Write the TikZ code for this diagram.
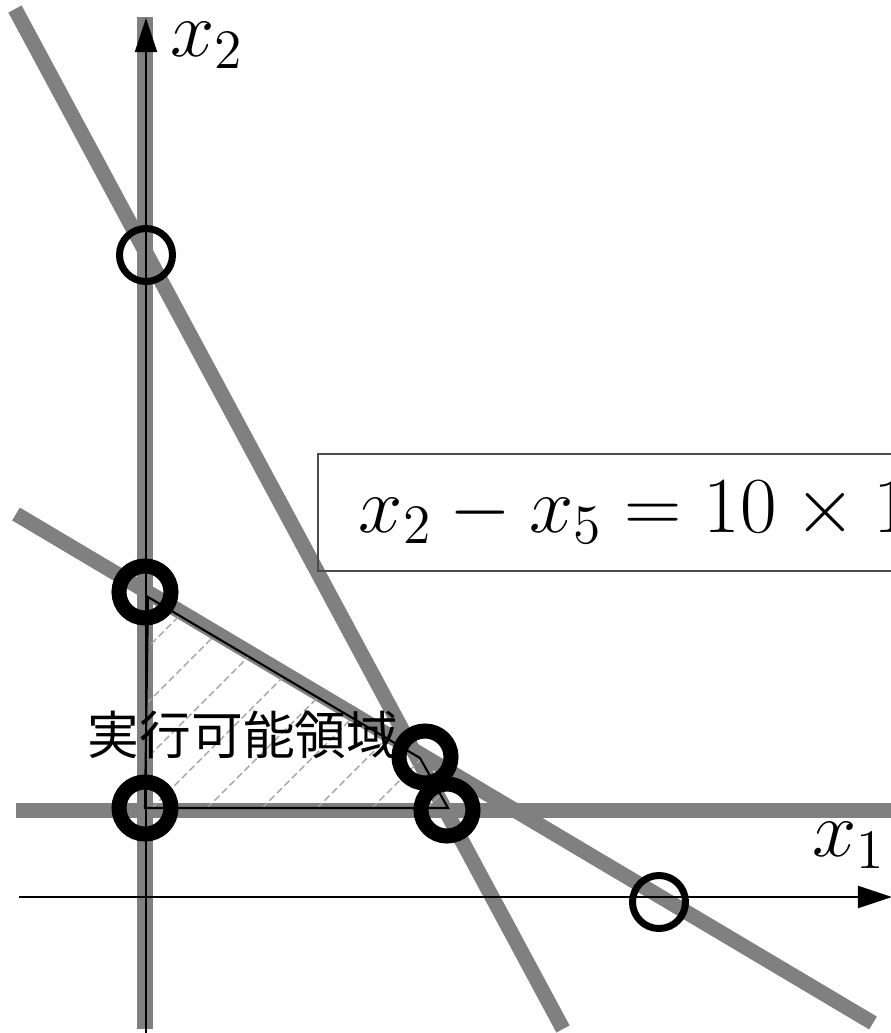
\RequirePackage{fix-cm}
\documentclass[tikz,border=0pt]{standalone}
\usepackage{fontspec}
\usepackage{tikz}
\usepackage{xcolor}
\usetikzlibrary{arrows.meta}
\newfontfamily\jpfont{Noto Sans CJK JP}
\definecolor{linegray}{RGB}{128,128,128}
\definecolor{hatchgray}{RGB}{165,165,165}

\begin{document}
\begin{tikzpicture}[
    x=0.01cm, y=-0.01cm,
    every node/.style={font=\fontsize{22.6}{27}\selectfont},
    constraint/.style={draw=linegray, line width=0.15cm},
    axis/.style={draw=black, line width=0.6pt, -{Triangle[length=0.34cm,width=0.22cm]}},
    vertex/.style={draw, circle, line width=0.15cm, minimum size=0.52cm, inner sep=0pt},
    basis/.style={draw, circle, line width=0.07cm, minimum size=0.53cm, inner sep=0pt},
    hatch/.style={draw=hatchgray, line width=0.4pt, dash pattern=on 2pt off 1pt}
]
\useasboundingbox (0,0) rectangle (891,1033);
\clip (0,0) rectangle (891,1033);

% Constraint lines
\coordinate (s1) at (15,9);
\coordinate (s2) at (563,1029);
\coordinate (f1) at (16,514);
\coordinate (f2) at (873,1023);
\coordinate (h1) at (16,810);
\coordinate (h2) at (905,810);
\coordinate (v1) at (145,17);
\coordinate (v2) at (145,1029);
\draw[constraint] (s1) -- (s2);
\draw[constraint] (f1) -- (f2);
\draw[constraint] (h1) -- (h2);
\draw[constraint] (v1) -- (v2);

% Axes
\coordinate (ax0) at (19,897);
\coordinate (ax1) at (892,897);
\coordinate (ay0) at (146,1040);
\coordinate (ay1) at (146,18);
\draw[axis] (ax0) -- (ax1);
\draw[axis] (ay0) -- (ay1);

% Feasible region
\coordinate (p1) at (148,597);
\coordinate (p2) at (420,758);
\coordinate (p3) at (448,808);
\coordinate (p4) at (145,808);
\begin{scope}
    \clip (p1) -- (p2) -- (p3) -- (p4) -- cycle;
    \foreach \x in {-68,-13,...,430}
        \draw[hatch] (\x,808) -- ++(320,-320);
\end{scope}
\draw[line width=0.6pt] (p1) -- (p2) -- (p3) -- (p4) -- cycle;

% Vertices
\node[basis] (c1) at (146,255) {};
\node[vertex] (c2) at (145,592) {};
\node[vertex] (c3) at (145,808) {};
\node[vertex] (c4) at (425,757) {};
\node[vertex] (c5) at (447,810) {};
\node[basis] (c6) at (659,902) {};

% Labels
\node (lx2) at (207,45) {$x_2$};
\node (lx1) at (849,845) {$x_1$};
\node[font=\fontsize{14.7}{17}\jpfont] (region) at (243,735) {実行可能領域};
\node[draw=black!70, line width=0.5pt, anchor=north west, minimum height=1.17cm,
      text width=7cm, inner xsep=0.41cm] (eq) at (317,453) {$x_2 - x_5 = 10 \times 1$};

\end{tikzpicture}
\end{document}
